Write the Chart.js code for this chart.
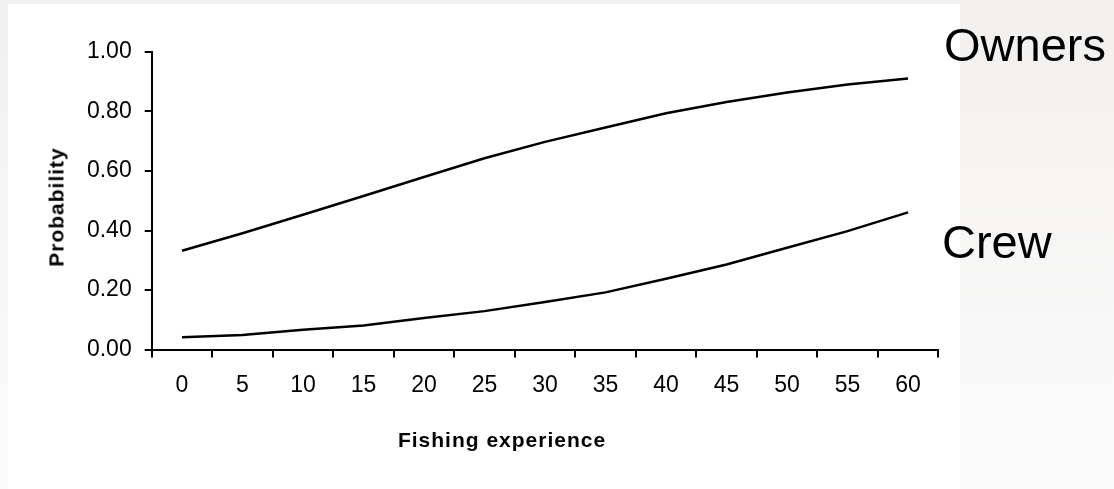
<!DOCTYPE html>
<html>
<head>
<meta charset="utf-8">
<script src="https://cdn.jsdelivr.net/npm/chart.js@4"></script>
<style>
  html, body { margin: 0; padding: 0; }
  body {
    width: 1114px; height: 489px; overflow: hidden; position: relative;
    background: linear-gradient(to bottom, #f1f0ee 0%, #f6f5f4 40%, #fbfbfb 100%);
    font-family: "Liberation Sans", Arial, sans-serif;
  }
  #panel { position: absolute; left: 8px; top: 4px; width: 952px; height: 485px; background: #ffffff; }
  #wrap { position: absolute; left: 0; top: 0; width: 1114px; height: 489px; }
  .lbl { position: absolute; font-family: "Liberation Sans", Arial, sans-serif; font-size: 47px; color: #000; line-height: 1; white-space: nowrap; }
  .ttl { position: absolute; font-family: "Liberation Sans", Arial, sans-serif; font-size: 21px; font-weight: bold; letter-spacing: 1px; color: #000; line-height: 1; white-space: nowrap; }
</style>
</head>
<body>
<div id="panel"></div>
<div id="wrap"><canvas id="c" width="1114" height="489"></canvas></div>
<div class="lbl" id="lOwners" style="left:944px; top:21px;">Owners</div>
<div class="lbl" id="lCrew" style="left:942px; top:218px;">Crew</div>
<div class="ttl" id="tX" style="left:502px; top:439px; transform: translate(-50%,-50%);">Fishing experience</div>
<div class="ttl" id="tY" style="left:56px; top:207px; transform: translate(-50%,-50%) rotate(-90deg);">Probability</div>
<script>
const categories = ["0", "5", "10", "15", "20", "25", "30", "35", "40", "45", "50", "55", "60"];
const owners = [0.332, 0.391, 0.453, 0.516, 0.580, 0.643, 0.698, 0.746, 0.794, 0.832, 0.864, 0.891, 0.911];
const crew   = [0.041, 0.049, 0.066, 0.081, 0.106, 0.129, 0.160, 0.192, 0.238, 0.286, 0.342, 0.398, 0.461];
const yTicks = [0, 0.2, 0.4, 0.6, 0.8, 1.0];

const FONT = "'Liberation Sans', Arial, sans-serif";

new Chart(document.getElementById('c'), {
  type: 'line',
  data: {
    labels: categories,
    datasets: [
      { label: 'Owners', data: owners, borderColor: '#000', borderWidth: 2.5, pointRadius: 0, tension: 0, fill: false },
      { label: 'Crew', data: crew, borderColor: '#000', borderWidth: 2.5, pointRadius: 0, tension: 0, fill: false }
    ]
  },
  options: {
    responsive: false,
    animation: false,
    events: [],
    layout: { padding: { left: 0, right: 175.7, top: 52, bottom: 0 } },
    plugins: { legend: { display: false }, tooltip: { enabled: false }, title: { display: false } },
    scales: {
      x: {
        type: 'category',
        offset: true,
        grid: { offset: true, drawOnChartArea: false, drawTicks: true, tickLength: 8, color: '#000', lineWidth: 2 },
        border: { display: true, color: '#000', width: 2 },
        ticks: { color: '#000', font: { family: FONT, size: 23 }, padding: 14, maxRotation: 0, autoSkip: false },
        title: { display: false },
        afterFit: (s) => { s.height = 139.5; }
      },
      y: {
        min: 0, max: 1,
        afterBuildTicks: (s) => { s.ticks = yTicks.map(v => ({ value: v })); },
        grid: { drawOnChartArea: false, drawTicks: true, tickLength: 7, color: '#000', lineWidth: 2 },
        border: { display: true, color: '#000', width: 2 },
        ticks: { color: '#000', font: { family: FONT, size: 23 }, padding: 13, callback: (v) => Number(v).toFixed(2) },
        title: { display: false },
        afterFit: (s) => { s.width = 151.7; }
      }
    }
  }
});
</script>
</body>
</html>
